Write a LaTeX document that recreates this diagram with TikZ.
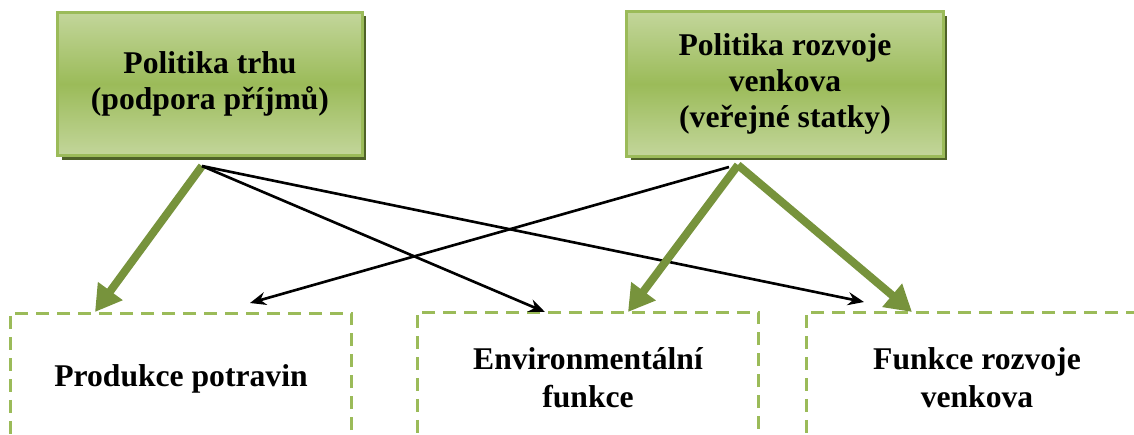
\documentclass[tikz,border=0pt]{standalone}
\usepackage{fontspec}
\setmainfont{Liberation Serif}
\usetikzlibrary{arrows.meta,shadows}

\definecolor{olivelight}{HTML}{C3D69B}
\definecolor{olivemid}{HTML}{9BBB59}
\definecolor{olivedark}{HTML}{4F6228}
\definecolor{olivearrow}{HTML}{77933C}

\begin{document}
\begin{tikzpicture}[x=0.02cm, y=-0.02cm,
    policy/.style={draw=olivemid, line width=0.06cm,
        top color=olivelight, bottom color=olivelight, middle color=olivemid,
        drop shadow={shadow xshift=0.08cm, shadow yshift=-0.08cm, opacity=1, fill=olivedark},
        align=center, inner sep=0pt, font=\fontsize{18}{20.5}\selectfont\bfseries,
        execute at begin node={\rule{0pt}{20pt}}},
    func/.style={draw=olivemid, line width=0.06cm, dash pattern=on 0.26cm off 0.16cm,
        minimum width=6.84cm, minimum height=2.64cm,
        align=center, inner sep=0pt, font=\fontsize{18}{21.5}\selectfont\bfseries},
    fat/.style={draw=olivearrow, line width=0.16cm, -{Triangle[length=0.52cm,width=0.58cm]}},
    thin/.style={draw=black, line width=1.5pt, -{Stealth[length=0.32cm,width=0.26cm]}}]

\useasboundingbox (0,0) rectangle (1134,434);
\clip (0,0) rectangle (1134,434);

\node [policy, minimum width=6.1cm, minimum height=2.88cm] (trhu) at (210,84)
    {Politika trhu\\(podpora příjmů)};
\node [policy, minimum width=6.34cm, minimum height=2.9cm] (venkov) at (785,84)
    {Politika rozvoje\\venkova\\(veřejné statky)};

\node [func] (potraviny) at (181,379) {Produkce potravin};
\node [func] (enviro)    at (588,378) {Environmentální\\funkce};
\node [func] (rozvoj)    at (977,378) {Funkce rozvoje\\venkova};

\coordinate (t) at (202,166);
\coordinate (v) at (738,165);
\coordinate (w) at (729,167);

\coordinate (p1) at (95,312);
\coordinate (p2) at (250,303);
\coordinate (e1) at (545,312);
\coordinate (e2) at (628,312);
\coordinate (r1) at (864,302);
\coordinate (r2) at (912,312);

\draw [fat]  (t) -- (p1);
\draw [thin] (t) -- (e1);
\draw [thin] (t) -- (r1);

\draw [thin] (w) -- (p2);
\draw [fat]  (v) -- (e2);
\draw [fat]  (v) -- (r2);

\end{tikzpicture}
\end{document}
